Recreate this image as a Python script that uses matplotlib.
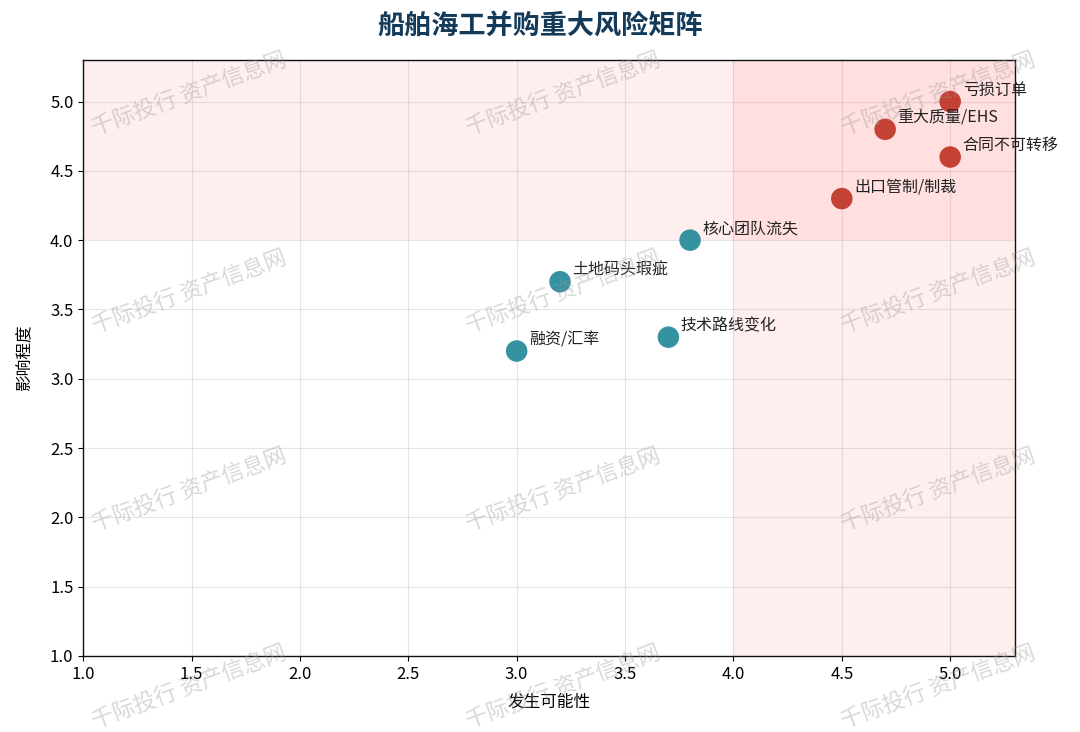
import matplotlib
matplotlib.use("Agg")
import matplotlib.pyplot as plt

plt.rcParams['font.family'] = ['Noto Sans CJK SC', 'DejaVu Sans']
plt.rcParams['axes.unicode_minus'] = False

names = ["亏损订单", "重大质量/EHS", "合同不可转移", "出口管制/制裁",
         "核心团队流失", "土地码头瑕疵", "融资/汇率", "技术路线变化"]
likelihood = [5.0, 4.7, 5.0, 4.5, 3.8, 3.2, 3.0, 3.7]
impact = [5.0, 4.8, 4.6, 4.3, 4.0, 3.7, 3.2, 3.3]
high_risk = [True, True, True, True, False, False, False, False]

title = "船舶海工并购重大风险矩阵"
xlabel = "发生可能性"
ylabel = "影响程度"
watermark = "千际投行 资产信息网"

fig = plt.figure(figsize=(10.8, 7.32), dpi=100)
ax = fig.add_axes([0.077, 0.104, 0.863, 0.814])
ax.set_xlim(1.0, 5.3)
ax.set_ylim(1.0, 5.3)

ax.grid(True, color='#cccccc', alpha=0.5, lw=0.8, zorder=0)
ax.set_axisbelow(True)
ax.axhspan(4.0, 5.3, color='#ff6b6b', alpha=0.11, lw=0, zorder=1)
ax.axvspan(4.0, 5.3, color='#ff6b6b', alpha=0.11, lw=0, zorder=1)

colors = ['#c0392b' if h else '#2a8c9c' for h in high_risk]
ax.scatter(likelihood, impact, s=240, c=colors, alpha=0.95, zorder=3, edgecolors='none')
for n, x, y in zip(names, likelihood, impact):
    ax.annotate(n, (x, y), xytext=(9, 5), textcoords='offset points',
                fontsize=11.5, color='#222222', zorder=4)

ax.set_xticks([1.0, 1.5, 2.0, 2.5, 3.0, 3.5, 4.0, 4.5, 5.0])
ax.set_yticks([1.0, 1.5, 2.0, 2.5, 3.0, 3.5, 4.0, 4.5, 5.0])
ax.tick_params(labelsize=12)
ax.set_xlabel(xlabel, fontsize=12, labelpad=8)
ax.set_ylabel(ylabel, fontsize=12, labelpad=12)
for sp in ax.spines.values():
    sp.set_color('#111111')
    sp.set_linewidth(1.0)

fig.text(0.5, 0.965, title, ha='center', va='center', fontsize=19.5,
         fontweight='bold', color='#143a5a')

for fy in [0.87, 0.60, 0.33, 0.06]:
    for fx in [0.175, 0.522, 0.869]:
        fig.text(fx, fy, watermark, ha='center', va='center', fontsize=16,
                 rotation=20, color='#999999', alpha=0.38, zorder=10)

fig.savefig("out.png", dpi=100)
